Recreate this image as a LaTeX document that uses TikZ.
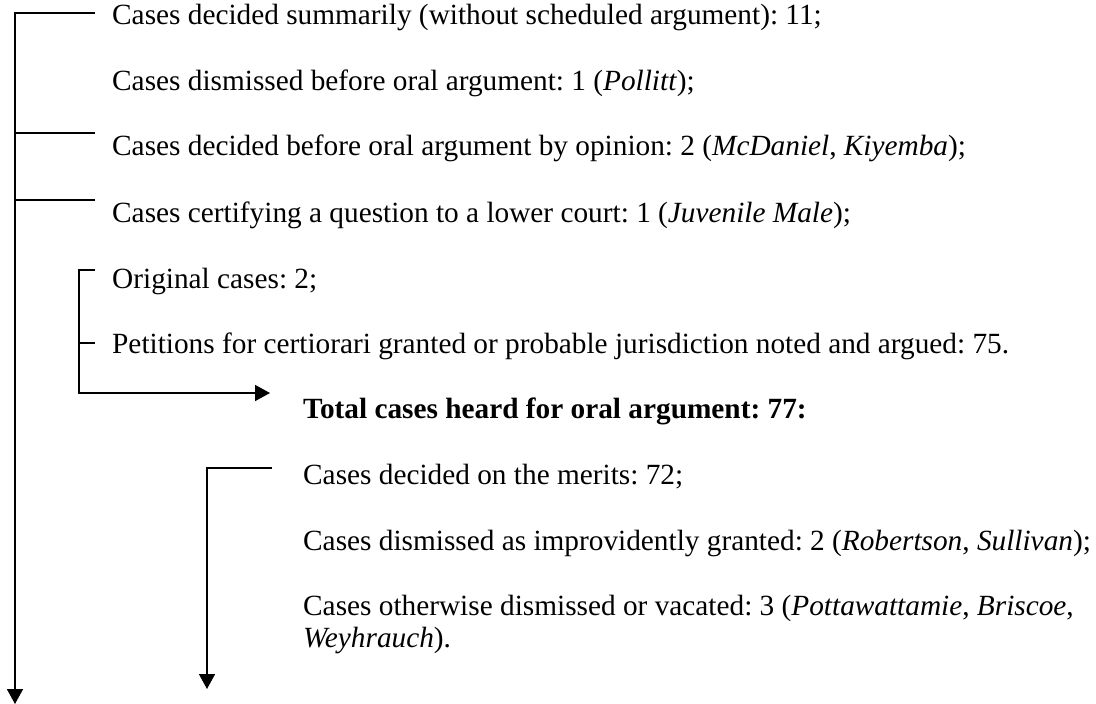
\documentclass[tikz,border=0pt]{standalone}
\usepackage{fontspec}
\setmainfont{Liberation Serif}
\usetikzlibrary{arrows.meta}
\frenchspacing
\begin{document}
\begin{tikzpicture}[x=1pt,y=-1pt,
  lbl/.style={anchor=base west,inner sep=0pt,font=\fontsize{29.3}{34}\selectfont},
  conn/.style={line width=1.6pt,line join=miter},
  arr/.style={conn,-{Triangle[length=15pt,width=16pt]}}]
\useasboundingbox (0,0) rectangle (1096,704);
% texts
\node[lbl] (t1) at (112,24) {Cases decided summarily (without scheduled argument): 11;};
\node[lbl] (t2) at (112,90) {Cases dismissed before oral argument: 1 (\textit{Pollitt});};
\node[lbl] (t3) at (112,155) {Cases decided before oral argument by opinion: 2 (\textit{McDaniel}, \textit{Kiyemba});};
\node[lbl] (t4) at (112,222) {Cases certifying a question to a lower court: 1 (\textit{Juvenile Male});};
\node[lbl] (t5) at (112,288) {Original cases: 2;};
\node[lbl] (t6) at (112,353) {Petitions for certiorari granted or probable jurisdiction noted and argued: 75.};
\node[lbl,font=\fontsize{29.3}{34}\selectfont\bfseries] (t7) at (303,418) {Total cases heard for oral argument: 77:};
\node[lbl] (t8) at (303,484) {Cases decided on the merits: 72;};
\node[lbl] (t9) at (303,550) {Cases dismissed as improvidently granted: 2 (\textit{Robertson}, \textit{Sullivan});};
\node[lbl] (t10) at (303,615) {Cases otherwise dismissed or vacated: 3 (\textit{Pottawattamie}, \textit{Briscoe},};
\node[lbl] (t10b) at (303,647) {\textit{Weyhrauch}).};
% connector coordinates
\coordinate (a1) at (95,13);
\coordinate (a3) at (95,133);
\coordinate (a4) at (95,200);
\coordinate (spine) at (15,13);
\coordinate (spineEnd) at (15,704);
\coordinate (b5) at (95,270);
\coordinate (b6) at (95,343);
\coordinate (bx) at (79,270);
\coordinate (bEnd) at (270,393);
\coordinate (c8) at (272,468);
\coordinate (cx) at (207,468);
\coordinate (cEnd) at (207,689);
% main spine
\draw[arr] (a1) -- (spine) -- (spineEnd);
\draw[conn] (a3) -- (spine |- a3);
\draw[conn] (a4) -- (spine |- a4);
% inner bracket
\draw[arr] (b5) -- (bx) |- (bEnd);
\draw[conn] (b6) -- (bx |- b6);
% second bracket
\draw[arr] (c8) -- (cx) -- (cEnd);
\end{tikzpicture}
\end{document}
